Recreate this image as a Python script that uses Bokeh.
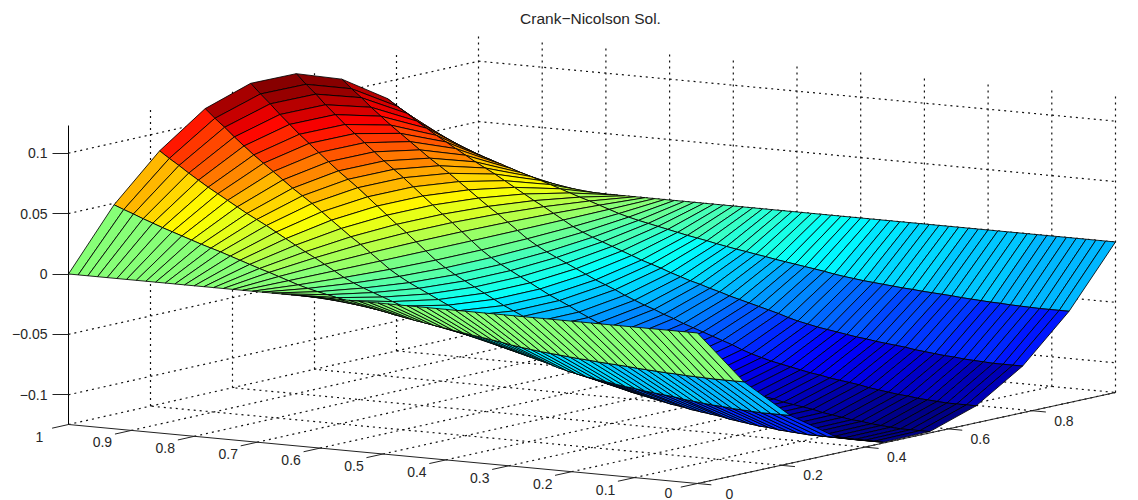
from bokeh.plotting import figure
from bokeh.embed import file_html
from bokeh.resources import INLINE
from bokeh.models import LinearAxis, FixedTicker, ColumnDataSource, Range1d
from bokeh.core.properties import value

# ---- data ----
title_text = "Crank\u2212Nicolson Sol."
x_ticks = [0.0, 0.1, 0.2, 0.3, 0.4, 0.5, 0.6, 0.7, 0.8, 0.9, 1.0]
x_tick_labels = ["0", "0.1", "0.2", "0.3", "0.4", "0.5", "0.6", "0.7", "0.8", "0.9", "1"]
y_ticks = [0.0, 0.2, 0.4, 0.6, 0.8]
y_tick_labels = ["0", "0.2", "0.4", "0.6", "0.8"]
z_ticks = [-0.1, -0.05, 0.0, 0.05, 0.1]
z_tick_labels = {-0.1: "\u22120.1", -0.05: "\u22120.05", 0: "0", 0.05: "0.05", 0.1: "0.1"}
z_min, z_max = -0.1246, 0.1229

# surface height across y (10 grid points), at the x = 1 side
y_profile = [0.0, 0.0488, 0.0850, 0.1115, 0.1240, 0.1235, 0.1105, 0.0860, 0.0490, 0.0]
# multiplier along x (66 grid lines, from x = 1 down to x = 0)
x_profile = [1.000, 0.935, 0.875, 0.810, 0.750, 0.690, 0.635, 0.580, 0.525, 0.470,
             0.420, 0.370, 0.315, 0.260, 0.205, 0.150, 0.100, 0.045, -0.010, -0.065,
             -0.110, -0.150, -0.185, -0.220, -0.255, -0.290, -0.325, -0.355, -0.385, -0.420,
             -0.450, -0.480, -0.505, -0.535, -0.560, -0.590, -0.615, -0.640, -0.665, -0.690,
             -0.715, -0.745, -0.770, -0.790, -0.810, -0.825, -0.840, -0.855, -0.870, -0.880,
             -0.895, -0.905, -0.915, -0.925, -0.940, -0.950, -0.960, -0.970, -0.975, -0.985,
             -0.990, -0.995, -1.000, -1.000, -1.000, -1.000]

# ---- view: floor corners on the page and height scale ----
A = (68.0, 424.0)     # x=1, y=0
B = (697.0, 483.0)    # x=0, y=0
C = (1115.0, 392.0)   # x=0, y=1
D = (478.0, 332.0)    # x=1, y=1
Z0 = 273.5
ZS = 1208.0


def project(x, y, z):
    sx = (1-x)*(1-y)*B[0] + x*(1-y)*A[0] + (1-x)*y*C[0] + x*y*D[0]
    fl = (1-x)*(1-y)*B[1] + x*(1-y)*A[1] + (1-x)*y*C[1] + x*y*D[1]
    return sx, (Z0 - fl)/ZS + z - z_min


def jet(t):
    n = 64
    t = (min(n-1, max(0, int(t*n))) + 0.5)/n
    c = lambda v: int(255*max(0.0, min(1.0, v)))
    return "#%02x%02x%02x" % (c(1.5-abs(4*t-3)), c(1.5-abs(4*t-2)), c(1.5-abs(4*t-1)))


nx, ny = len(x_profile), len(y_profile)
xs_grid = [1 - i/(nx-1) for i in range(nx)]
ys_grid = [j/(ny-1) for j in range(ny)]
Z = [[x_profile[i]*y_profile[j] for j in range(ny)] for i in range(nx)]

p = figure(width=1138, height=500, output_backend="svg", toolbar_location=None,
           x_axis_type=None, y_axis_type=None,
           x_range=Range1d(0, 1138),
           y_range=Range1d((Z0-500)/ZS, Z0/ZS),
           min_border=0, min_border_left=0, min_border_right=0, min_border_top=0, min_border_bottom=0,
           outline_line_color=None, background_fill_color="white")
p.grid.visible = False

# ---- dotted grid on floor and back walls ----
gx, gy = [], []


def seg(a, b):
    pa, pb = project(*a), project(*b)
    gx.append([pa[0], pb[0]])
    gy.append([pa[1], pb[1]])


for t in x_ticks[:-1]:
    seg((t, 0, z_min), (t, 1, z_min))
    seg((t, 1, z_min), (t, 1, z_max))
for t in y_ticks[1:]:
    seg((0, t, z_min), (1, t, z_min))
    seg((1, t, z_min), (1, t, z_max))
seg((1, 1, z_min), (1, 1, z_max))
seg((1, 1, z_min), (0, 1, z_min))
seg((1, 0, z_min), (1, 1, z_min))
for t in z_ticks:
    seg((1, 0, t), (1, 1, t))
    seg((1, 1, t), (0, 1, t))
p.multi_line(gx, gy, line_color="#111111", line_width=1.2, line_dash="2 4")

# ---- surface, far faces first ----
px, py, col = [], [], []
for i in range(nx-1):
    for j in range(ny-2, -1, -1):
        corners = [(i, j), (i+1, j), (i+1, j+1), (i, j+1)]
        pts = [project(xs_grid[a], ys_grid[b], Z[a][b]) for a, b in corners]
        px.append([q[0] for q in pts])
        py.append([q[1] for q in pts])
        col.append(jet((Z[i][j]-z_min)/(z_max-z_min)))
p.patches("xs", "ys", source=ColumnDataSource(dict(xs=px, ys=py, c=col)),
          fill_color="c", line_color="black", line_width=0.85)

# ---- x and y axes ----
ax_x, ax_y = [], []
for a, b in [((1, 0, z_min), (0, 0, z_min)), ((0, 0, z_min), (0, 1, z_min))]:
    pa, pb = project(*a), project(*b)
    ax_x.append([pa[0], pb[0]])
    ax_y.append([pa[1], pb[1]])
for t in x_ticks:
    pa, pb = project(t, 0, z_min), project(t, -0.04, z_min)
    ax_x.append([pa[0], pb[0]])
    ax_y.append([pa[1], pb[1]])
for t in y_ticks:
    pa, pb = project(0, t, z_min), project(-0.022, t, z_min)
    ax_x.append([pa[0], pb[0]])
    ax_y.append([pa[1], pb[1]])
p.multi_line(ax_x, ax_y, line_color="#222222", line_width=1)

font = value("Liberation Sans")
lx, ly = zip(*[project(t, 0, z_min) for t in x_ticks])
x_label_source = ColumnDataSource(dict(x=list(lx), y=list(ly), t=x_tick_labels,
                                       dy=[9 if s == "0" else 12 for s in x_tick_labels]))
p.text("x", "y", text="t", source=x_label_source, text_font=font, text_font_size="14px",
       text_color="#262626", text_align="center", text_baseline="middle", x_offset=-29, y_offset="dy")
lx, ly = zip(*[project(0, t, z_min) for t in y_ticks])
p.text(list(lx), list(ly), text=y_tick_labels, text_font=font, text_font_size="14px",
       text_color="#262626", text_align="center", text_baseline="middle", x_offset=32, y_offset=10)

# ---- z axis: a real axis fixed at the corner of the box ----
z_axis = LinearAxis(fixed_location=A[0], ticker=FixedTicker(ticks=z_ticks),
                    major_label_overrides=z_tick_labels, bounds=(z_min, z_max),
                    major_tick_in=0, major_tick_out=16, minor_tick_line_color=None,
                    axis_line_color="black", major_tick_line_color="#222222",
                    major_label_text_font="Liberation Sans", major_label_text_font_size="14px",
                    major_label_text_color="#262626", major_label_standoff=5)
p.add_layout(z_axis, "left")

p.text([590.0], [(Z0-18)/ZS], text=[title_text], text_font=font, text_font_size="15.5px",
       text_color="#262626", text_align="center", text_baseline="middle")

open("out.html", "w").write(file_html(p, INLINE))
